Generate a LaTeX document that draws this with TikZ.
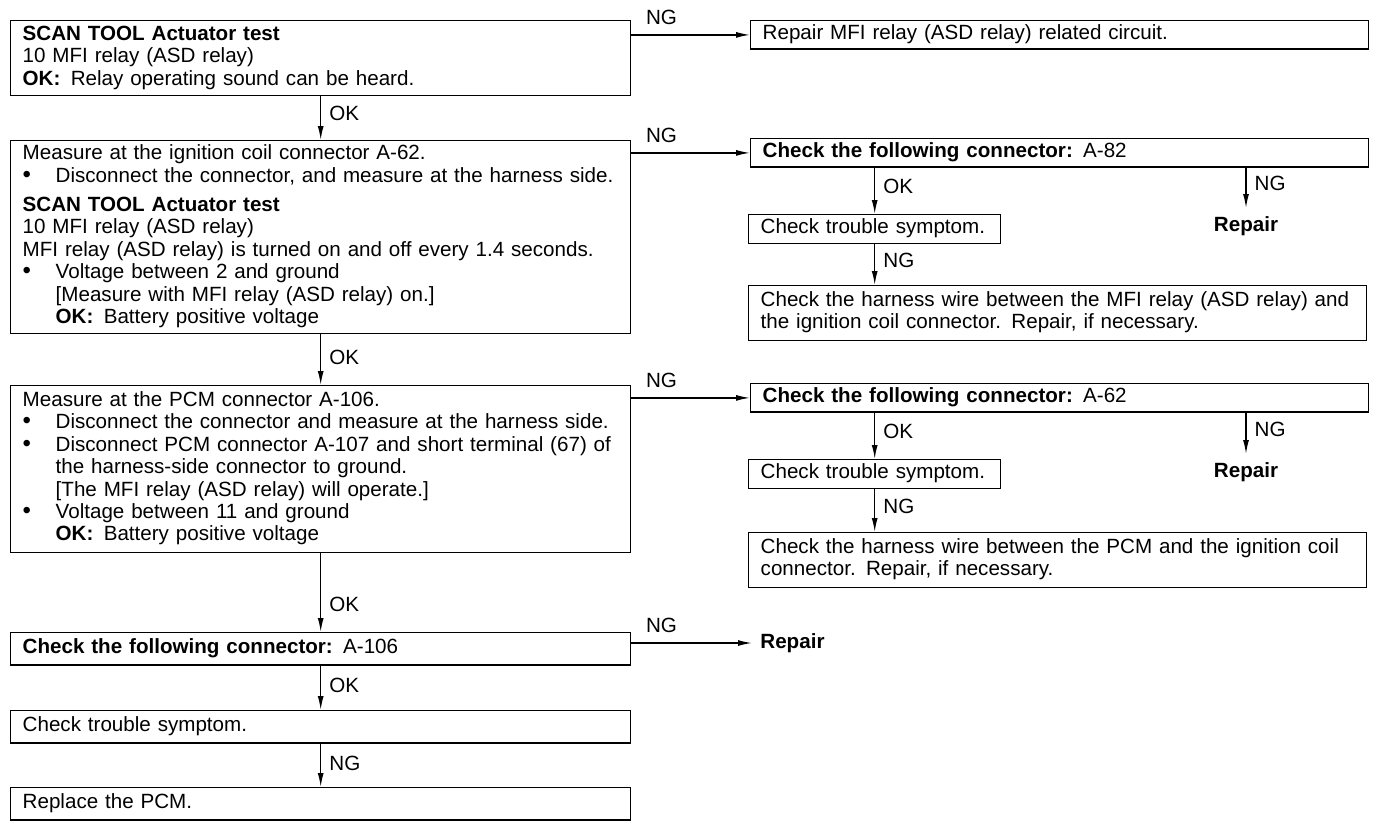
\documentclass[tikz,border=0pt]{standalone}
\usepackage{fontspec}
\setmainfont{Liberation Sans}
\usetikzlibrary{arrows.meta}
\newcommand{\bul}{\makebox[16.5pt][l]{\large\textbullet}}
\newcommand{\ind}{\hspace*{16.5pt}}
\newcommand{\rows}[1]{\begin{tabular}{@{}l@{}}#1\end{tabular}}

\begin{document}
\begin{tikzpicture}[x=0.5pt,y=-0.5pt,
  box/.style={draw, line width=0.7pt, anchor=north west, inner xsep=6pt, inner ysep=2.5pt,
    align=left, font=\fontsize{10.3}{11.2}\selectfont},
  lbox/.style={box, text width=298pt},
  rbox/.style={box, text width=297pt},
  sbox/.style={box, text width=114pt},
  bold/.style={font=\fontsize{10.3}{11.2}\selectfont\bfseries, inner sep=4pt},
  lbl/.style={font=\fontsize{10.3}{11.2}\selectfont, inner sep=1pt},
  arr/.style={-{Latex[length=7pt,width=3pt]}, line width=0.7pt}]
\useasboundingbox (0,0) rectangle (1392,826);

% left column
\node[lbox, minimum height=37.5pt, inner ysep=1.5pt] (scan) at (10,20) {\rows{\textbf{SCAN TOOL Actuator test}\\
10 MFI relay (ASD relay)\\
\textbf{OK:}\enspace Relay operating sound can be heard.}};
\node[lbox, minimum height=96.5pt, inner ysep=1pt] (coil) at (10,140) {\rows{Measure at the ignition coil connector A-62.\\
\bul Disconnect the connector, and measure at the harness side.\\[3.5pt]
\textbf{SCAN TOOL Actuator test}\\
10 MFI relay (ASD relay)\\
MFI relay (ASD relay) is turned on and off every 1.4 seconds.\\
\bul Voltage between 2 and ground\\
\ind [Measure with MFI relay (ASD relay) on.]\\
\ind \textbf{OK:}\enspace Battery positive voltage}};
\node[lbox, minimum height=83.5pt] (pcm) at (10,385) {\rows{Measure at the PCM connector A-106.\\
\bul Disconnect the connector and measure at the harness side.\\
\bul Disconnect PCM connector A-107 and short terminal (67) of\\
\ind the harness-side connector to ground.\\
\ind [The MFI relay (ASD relay) will operate.]\\
\bul Voltage between 11 and ground\\
\ind \textbf{OK:}\enspace Battery positive voltage}};
\node[lbox, minimum height=15pt] (conC) at (10,632) {\rows{\textbf{Check the following connector:} A-106}};
\node[lbox, minimum height=15pt] (trbC) at (10,710) {\rows{Check trouble symptom.}};
\node[lbox, minimum height=15pt] (pcmR) at (10,787) {\rows{Replace the PCM.}};

% right column
\node[rbox, minimum height=13.5pt, inner ysep=1.5pt] (relR) at (750,20) {\rows{Repair MFI relay (ASD relay) related circuit.}};
\node[rbox, minimum height=14pt, inner ysep=1.5pt] (conA) at (750,138) {\rows{\textbf{Check the following connector:} A-82}};
\node[sbox, minimum height=14.5pt, inner ysep=1.5pt] (trbA) at (748,214) {\rows{Check trouble symptom.}};
\node[bold] (repA) at (1246,226) {Repair};
\node[rbox, minimum height=27.5pt] (wirA) at (748,285) {\rows{Check the harness wire between the MFI relay (ASD relay) and\\
the ignition coil connector. Repair, if necessary.}};
\node[rbox, minimum height=14pt, inner ysep=1.5pt] (conB) at (750,383) {\rows{\textbf{Check the following connector:} A-62}};
\node[sbox, minimum height=14.5pt, inner ysep=1.5pt] (trbB) at (748,459) {\rows{Check trouble symptom.}};
\node[bold] (repB) at (1246,472) {Repair};
\node[rbox, minimum height=27.5pt] (wirB) at (748,532) {\rows{Check the harness wire between the PCM and the ignition coil\\
connector. Repair, if necessary.}};
\node[bold, anchor=west] (repC) at (752,643) {Repair};

% OK arrows down the left
\draw[arr] (scan.south) -- node[lbl, right=3pt, pos=0.4] {OK} (coil.north);
\draw[arr] (coil.south) -- node[lbl, right=3pt, pos=0.45] {OK} (pcm.north);
\draw[arr] (pcm.south) -- node[lbl, right=3pt, pos=0.65] {OK} (conC.north);
\draw[arr] (conC.south) -- node[lbl, right=3pt, pos=0.45] {OK} (trbC.north);
\draw[arr] (trbC.south) -- node[lbl, right=3pt, pos=0.45] {NG} (pcmR.north);

% NG arrows to the right
\draw[arr] (scan.east |- relR.west) -- node[lbl, pos=0, anchor=south west, xshift=6pt, yshift=4pt] {NG} (relR.west);
\draw[arr] (coil.east |- conA.west) -- node[lbl, pos=0, anchor=south west, xshift=6pt, yshift=4pt] {NG} (conA.west);
\draw[arr] (pcm.east |- conB.west) -- node[lbl, pos=0, anchor=south west, xshift=6pt, yshift=4pt] {NG} (conB.west);
\draw[arr] (conC.east |- repC.west) -- node[lbl, pos=0, anchor=south west, xshift=6pt, yshift=4pt] {NG} (repC.west);

% right branches
\draw[arr] (trbA.north |- conA.south) -- node[lbl, right=3pt, pos=0.4] {OK} (trbA.north);
\draw[arr] (repA.north |- conA.south) -- node[lbl, right=3pt, pos=0.4] {NG} (repA.north);
\draw[arr] (trbA.south) -- node[lbl, right=3pt, pos=0.4] {NG} (trbA.south |- wirA.north);
\draw[arr] (trbB.north |- conB.south) -- node[lbl, right=3pt, pos=0.4] {OK} (trbB.north);
\draw[arr] (repB.north |- conB.south) -- node[lbl, right=3pt, pos=0.4] {NG} (repB.north);
\draw[arr] (trbB.south) -- node[lbl, right=3pt, pos=0.4] {NG} (trbB.south |- wirB.north);
\end{tikzpicture}
\end{document}
